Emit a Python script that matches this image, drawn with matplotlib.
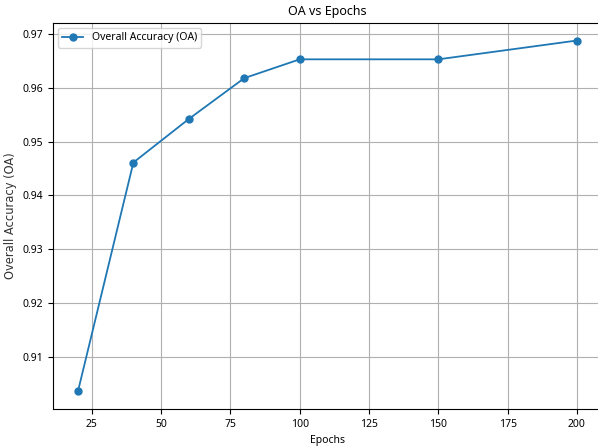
import matplotlib
matplotlib.use("Agg")
import matplotlib.pyplot as plt

#data
epochs = [20, 40, 60, 80, 100, 150, 200]
oa = [0.9035, 0.9461, 0.9542, 0.9618, 0.9653, 0.9653, 0.9688]

plt.rcParams['font.family'] = ['Noto Sans', 'DejaVu Sans']

fig = plt.figure(figsize=(5.98, 4.46), dpi=100)
ax = fig.add_axes([0.0886, 0.083, 0.918, 0.8655])

ax.plot(epochs, oa, marker='o', markersize=5, linewidth=1.3, color='#1f77b4', label='Overall Accuracy (OA)')

ax.set_title('OA vs Epochs', fontsize=9)
ax.set_xlabel('Epochs', fontsize=7.5)
ax.set_ylabel('Overall Accuracy (OA)', fontsize=8.3, family='DejaVu Sans', color='#333333')
ax.tick_params(labelsize=7.5)
ax.grid(True, color='#b0b0b0', linewidth=0.8)
ax.legend(loc='upper left', fontsize=7.5)

fig.savefig('out.png', dpi=100)
